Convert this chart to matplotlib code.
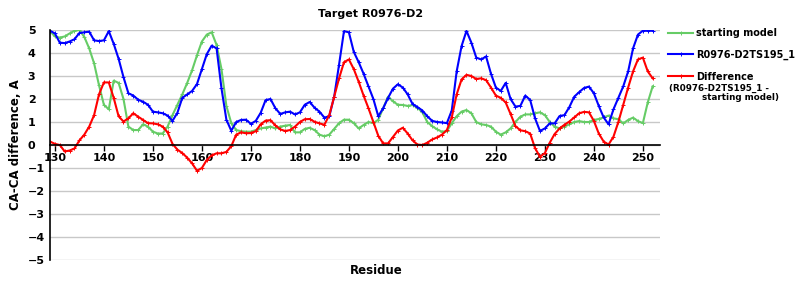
import numpy as np
import matplotlib.pyplot as plt

# residue numbers along the x axis
residues = np.arange(129, 253)

# CA-CA distance of the starting model (A)
starting_model = [
    4.95, 4.72, 4.67, 4.72, 4.85, 4.97, 5.0, 4.7, 4.2, 3.55,
    2.6, 1.75, 1.55, 2.8, 2.7, 2.0, 0.8, 0.65, 0.65, 0.9,
    0.8, 0.58, 0.5, 0.5, 0.8, 1.3, 1.75, 2.2, 2.7, 3.25,
    3.9, 4.5, 4.8, 4.9, 4.35, 3.3, 1.7, 0.95, 0.65, 0.6,
    0.58, 0.58, 0.65, 0.72, 0.76, 0.8, 0.72, 0.8, 0.84, 0.87,
    0.55, 0.55, 0.7, 0.75, 0.65, 0.45, 0.38, 0.45, 0.7, 0.95,
    1.1, 1.1, 0.95, 0.72, 0.87, 1.0, 0.95, 1.1, 1.6, 2.1,
    1.9, 1.75, 1.74, 1.7, 1.74, 1.62, 1.42, 1.0, 0.82, 0.68,
    0.58, 0.6, 0.95, 1.25, 1.45, 1.52, 1.38, 1.0, 0.9, 0.87,
    0.8, 0.58, 0.45, 0.55, 0.72, 1.0, 1.23, 1.33, 1.33, 1.38,
    1.42, 1.3, 1.0, 0.8, 0.72, 0.8, 0.9, 1.0, 1.04, 1.0,
    1.0, 1.09, 1.13, 1.2, 1.28, 1.16, 1.12, 0.94, 1.09, 1.19,
    1.04, 0.95, 1.85, 2.55,
]

# CA-CA distance of model R0976-D2TS195_1 (A)
ts195_model = [
    4.97, 4.85, 4.45, 4.43, 4.5, 4.6, 4.87, 4.9, 4.93, 4.55,
    4.52, 4.55, 4.95, 4.4, 3.75, 2.95, 2.25, 2.15, 1.97, 1.88,
    1.75, 1.45, 1.42, 1.38, 1.28, 1.05, 1.4, 2.05, 2.2, 2.35,
    2.65, 3.3, 3.95, 4.32, 4.2, 2.46, 1.1, 0.62, 1.0, 1.09,
    1.1, 0.92, 1.05, 1.4, 1.95, 2.0, 1.6, 1.35, 1.42, 1.45,
    1.33, 1.42, 1.75, 1.87, 1.62, 1.45, 1.19, 1.25, 2.1, 3.5,
    4.95, 4.9, 4.05, 3.6, 3.1, 2.55, 2.0, 1.25, 1.6, 2.05,
    2.45, 2.64, 2.5, 2.2, 1.78, 1.65, 1.5, 1.25, 1.05, 1.0,
    0.98, 0.95, 1.5, 3.2, 4.3, 4.96, 4.45, 3.8, 3.72, 3.85,
    3.1, 2.5, 2.35, 2.7, 2.0, 1.67, 1.7, 2.15, 1.96, 1.16,
    0.61, 0.72, 0.94, 0.94, 1.26, 1.3, 1.65, 2.1, 2.3, 2.48,
    2.54, 2.25, 1.7, 1.2, 0.9, 1.55, 2.05, 2.55, 3.2, 4.2,
    4.8, 4.97, 4.97, 4.97,
]

# difference (R0976-D2TS195_1 - starting model)
difference = [
    0.15, 0.05, 0.0, -0.28, -0.24, -0.15, 0.2, 0.45, 0.8, 1.3,
    2.2, 2.72, 2.72, 2.05, 1.25, 1.02, 1.16, 1.38, 1.23, 1.09,
    0.95, 0.94, 0.9, 0.8, 0.55, 0.05, -0.2, -0.35, -0.55, -0.8,
    -1.12, -1.0, -0.65, -0.45, -0.36, -0.36, -0.3, -0.05, 0.45, 0.55,
    0.51, 0.52, 0.6, 0.9, 1.06, 1.08, 0.85, 0.68, 0.61, 0.65,
    0.8, 1.0, 1.12, 1.13, 1.01, 0.94, 0.88, 1.3, 2.1, 2.9,
    3.6, 3.72, 3.3, 2.75, 2.15, 1.6, 1.0, 0.4, 0.07, 0.07,
    0.35, 0.63, 0.75, 0.5, 0.2, 0.02, 0.0, 0.1, 0.24, 0.33,
    0.45, 0.65, 1.2, 2.2, 2.85, 3.05, 3.0, 2.87, 2.9, 2.82,
    2.5, 2.15, 2.05, 1.85, 1.35, 0.82, 0.64, 0.6, 0.5, -0.14,
    -0.51, -0.35, 0.1, 0.48, 0.72, 0.88, 1.02, 1.2, 1.38, 1.44,
    1.42, 1.05, 0.5, 0.15, 0.02, 0.36, 1.0, 1.75, 2.5, 3.2,
    3.72, 3.8, 3.2, 2.9,
]

series_labels = ['starting model', 'R0976-D2TS195_1', 'Difference']
x_ticks = np.arange(130, 251, 10)
y_ticks = np.arange(-5, 6, 1)

plt.rcParams['font.family'] = ['DejaVu Sans']
plt.rcParams['font.weight'] = 'bold'

fig = plt.figure(figsize=(8, 3), dpi=100)
ax = fig.add_axes([0.0625, 0.1333, 0.7625, 0.7667])

line_kw = dict(linewidth=1.5, marker='+', markersize=2.5, markeredgewidth=0.7)
ax.plot(residues, starting_model, color='#66cc66', label=series_labels[0], **line_kw)
ax.plot(residues, ts195_model, color='#0000ff', label=series_labels[1], **line_kw)
ax.plot(residues, difference, color='#ff0000', label=series_labels[2], **line_kw)

ax.set_xlim(129, 253.5)
ax.set_ylim(-5, 5)
ax.set_xticks(x_ticks)
ax.set_yticks(y_ticks)
ax.yaxis.grid(True, color='#c8c8c8', linewidth=1)
ax.set_axisbelow(True)

# x axis runs along y = 0
ax.spines['bottom'].set_position(('data', 0))
ax.spines['bottom'].set_linewidth(1.2)
ax.spines['left'].set_linewidth(1.2)
ax.spines['top'].set_visible(False)
ax.spines['right'].set_visible(False)

ax.tick_params(axis='x', direction='out', length=4, width=1, pad=2, labelsize=8)
ax.tick_params(axis='y', length=0, pad=16, labelsize=8)
for lab in ax.get_yticklabels():
    lab.set_horizontalalignment('left')
for lab in ax.get_xticklabels() + ax.get_yticklabels():
    lab.set_fontweight('bold')

fig.text(371 / 800, 1 - 14 / 300, 'Target R0976-D2', ha='center', va='center',
         fontsize=8, fontweight='bold')
fig.text(376 / 800, 1 - 270 / 300, 'Residue', ha='center', va='center',
         fontsize=8.5, fontweight='bold')
fig.text(16 / 800, 1 - 145 / 300, 'CA-CA difference, A', ha='center', va='center',
         rotation=90, fontsize=8.5, fontweight='bold')

leg = ax.legend(loc='upper left', bbox_to_anchor=(668 / 800, 1 - 28 / 300),
                bbox_transform=fig.transFigure, frameon=False, fontsize=7,
                handlelength=2.6, handletextpad=0.25, labelspacing=1.2,
                borderpad=0, borderaxespad=0)
for txt in leg.get_texts():
    txt.set_fontweight('bold')

fig.text(669 / 800, 1 - 88 / 300, '(R0976-D2TS195_1 -', ha='left', va='center',
         fontsize=6.3, fontweight='bold')
fig.text(702 / 800, 1 - 98 / 300, 'starting model)', ha='left', va='center',
         fontsize=6.3, fontweight='bold')

fig.savefig('out.png', dpi=100)
